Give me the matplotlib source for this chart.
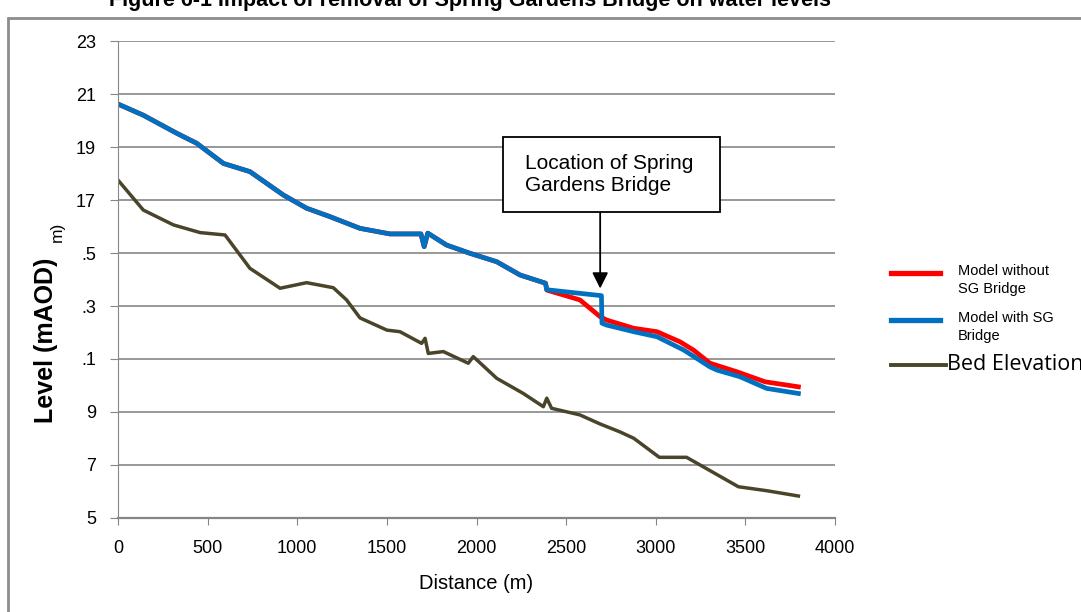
import matplotlib.pyplot as plt
from matplotlib.patches import Rectangle

# distances (m) and levels (mAOD)
with_dist = [0, 141, 327, 439, 588, 736, 922, 1052, 1183, 1350, 1517, 1690,
             1708, 1728, 1833, 1963, 2113, 2243, 2385, 2392, 2410, 2697, 2700,
             2726, 2877, 3007, 3156, 3303, 3342, 3470, 3619, 3796]
with_lvl = [20.62, 20.2, 19.52, 19.14, 18.38, 18.07, 17.19, 16.69, 16.37, 15.93,
            15.72, 15.72, 15.24, 15.75, 15.3, 14.99, 14.67, 14.17, 13.86, 13.62,
            13.60, 13.39, 12.35, 12.28, 12.03, 11.84, 11.34, 10.70, 10.58, 10.33,
            9.89, 9.70]

without_dist = [0, 141, 327, 439, 588, 736, 922, 1052, 1183, 1350, 1517, 1690,
                1708, 1728, 1833, 1963, 2113, 2243, 2385, 2392, 2577, 2689, 2726,
                2877, 3007, 3135, 3210, 3303, 3452, 3610, 3796]
without_lvl = [20.62, 20.2, 19.52, 19.14, 18.38, 18.07, 17.19, 16.69, 16.37, 15.93,
               15.72, 15.72, 15.24, 15.75, 15.3, 14.99, 14.67, 14.17, 13.86, 13.6,
               13.23, 12.6, 12.47, 12.16, 12.03, 11.65, 11.34, 10.84, 10.52, 10.14,
               9.95]

bed_dist = [0, 141, 309, 458, 597, 736, 904, 1052, 1201, 1275, 1350, 1500, 1573,
            1694, 1713, 1731, 1815, 1954, 1982, 2113, 2261, 2373, 2392, 2419,
            2577, 2689, 2800, 2877, 3020, 3172, 3461, 3619, 3796]
bed_lvl = [17.75, 16.62, 16.06, 15.77, 15.68, 14.42, 13.67, 13.88, 13.69, 13.23,
           12.55, 12.09, 12.03, 11.59, 11.78, 11.21, 11.28, 10.84, 11.09, 10.27,
           9.70, 9.20, 9.52, 9.14, 8.89, 8.55, 8.25, 8.01, 7.29, 7.29, 6.18,
           6.03, 5.83]

y_ticks = [5, 7, 9, 11, 13, 15, 17, 19, 21, 23]
y_ticklabels = ['5', '7', '9', '.1', '.3', '.5', '17', '19', '21', '23']
x_ticks = [0, 500, 1000, 1500, 2000, 2500, 3000, 3500, 4000]

bridge_at = 2690

tickfont = ['Liberation Sans', 'DejaVu Sans']
arial = ['Liberation Sans', 'DejaVu Sans']

fig = plt.figure(figsize=(10.81, 6.12), dpi=100)
ax = fig.add_axes([0.1092, 0.1536, 0.6632, 0.7794])

# outer frame around the chart
fig.patches.append(Rectangle((8 / 1081, -0.05), 1.1, 1 - 18 / 612 + 0.05,
                             transform=fig.transFigure, fill=False,
                             edgecolor='#8c8c8c', linewidth=2))

ax.plot(bed_dist, bed_lvl, color='#4a452a', lw=2.5)
ax.plot(without_dist, without_lvl, color='#ff0000', lw=3.4)
ax.plot(with_dist, with_lvl, color='#0070c0', lw=3.4)

ax.set_xlim(0, 4000)
ax.set_ylim(5, 23)
ax.set_yticks(y_ticks)
ax.set_yticklabels(y_ticklabels, family=tickfont, fontsize=13)
ax.set_xticks(x_ticks)
ax.set_xticklabels([str(t) for t in x_ticks], family=tickfont, fontsize=13)
ax.grid(axis='y', color='#868686', lw=1.2)
ax.set_axisbelow(True)
for s in ['top', 'right']:
    ax.spines[s].set_visible(False)
ax.spines['left'].set_color('#868686')
ax.spines['bottom'].set_color('#868686')
ax.spines['bottom'].set_linewidth(1.6)
ax.tick_params(axis='y', length=6, color='#868686', pad=10)
ax.tick_params(axis='x', length=5, color='#868686', pad=11)

ax.set_xlabel('Distance (m)', family=tickfont, fontsize=14.5, labelpad=12)
fig.text(46 / 1081, 1 - 340 / 612, 'Level (mAOD)', rotation=90, fontsize=18,
         fontweight='bold', family=arial, ha='center', va='center')
fig.text(57 / 1081, 1 - 232 / 612, 'm)', rotation=90, fontsize=12.5,
         family=arial, ha='center', va='center')

# title, partly cut off at the top of the image
fig.text(470 / 1081, 1 - 6 / 612,
         'Figure 6-1 Impact of removal of Spring Gardens Bridge on water levels',
         fontsize=15.5, fontweight='bold', family=arial, ha='center',
         va='baseline')

# callout box and arrow
ax.add_patch(Rectangle((2148, 16.55), 1210, 2.83, facecolor='white',
                       edgecolor='black', lw=1.3, zorder=5))
ax.text(2271, 17.96, 'Location of Spring\nGardens Bridge', fontsize=15,
        family=arial, ha='left', va='center', linespacing=1.25, zorder=6)
ax.annotate('', xy=(bridge_at, 13.66), xytext=(bridge_at, 16.55),
            arrowprops=dict(arrowstyle='-|>', color='black', lw=1.3,
                            mutation_scale=24, shrinkA=0, shrinkB=0))

# legend drawn by hand outside the plot area
lx0 = 891 / 1081
leg = [('#ff0000', 273, 'Model without\nSG Bridge'),
       ('#0070c0', 320, 'Model with SG\nBridge')]
for col, yp, lab in leg:
    fig.add_artist(plt.Line2D([lx0, 940 / 1081], [1 - yp / 612] * 2, color=col,
                              lw=3.8, transform=fig.transFigure))
    fig.text(958 / 1081, 1 - (yp + 7) / 612, lab, fontsize=10.5, family=arial,
             ha='left', va='center', linespacing=1.35)
fig.add_artist(plt.Line2D([lx0, 946 / 1081], [1 - 365 / 612] * 2, color='#4a452a',
                          lw=2.8, transform=fig.transFigure))
fig.text(947 / 1081, 1 - 364 / 612, 'Bed Elevation', fontsize=15.5,
         family=['Open Sans', 'DejaVu Sans'], ha='left', va='center')

fig.savefig('out.png', dpi=100)
